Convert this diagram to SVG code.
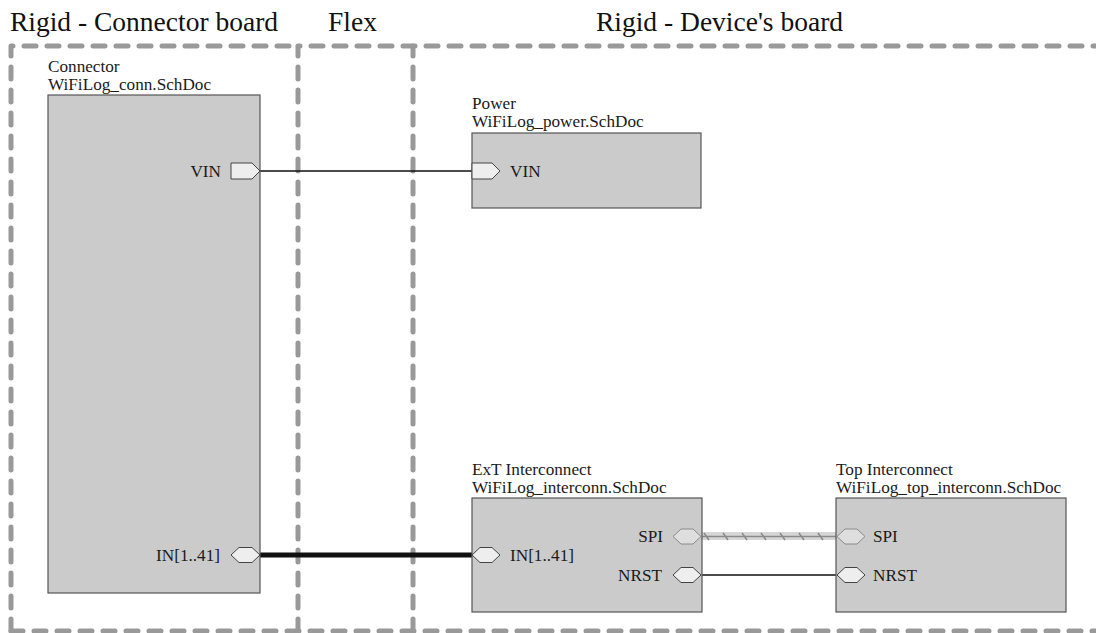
<svg xmlns="http://www.w3.org/2000/svg" width="1096" height="633" viewBox="0 0 1096 633">
<style>
.title{font-family:"Liberation Serif","Times New Roman",Tinos,"DejaVu Serif","Noto Serif",serif;font-size:27.5px;fill:#111}
.lbl{font-family:"Liberation Serif","Times New Roman",Tinos,"DejaVu Serif","Noto Serif",serif;font-size:17.2px;fill:#1a1a1a}
.end{text-anchor:end}
.region{fill:none;stroke:#999;stroke-width:5;stroke-dasharray:12 11;stroke-linecap:round;stroke-linejoin:round}
.sheet{fill:#cbcbcb;stroke:#555;stroke-width:1.2}
.port{fill:#eeeeee;stroke:#444;stroke-width:1}
.hport{fill:#dedede;stroke:#8a8a8a;stroke-width:1}
.wire{stroke:#111;stroke-width:1.5;fill:none}
.bus{stroke:#111;stroke-width:5;fill:none}
</style>
<rect width="1096" height="633" fill="#fff"/>
<g id="regions">
<text class="title" x="10" y="31">Rigid - Connector board</text>
<text class="title" x="328" y="31">Flex</text>
<text class="title" x="596" y="31">Rigid - Device's board</text>
<path class="region" d="M11,631 V46 H298"/>
<path class="region" d="M298,631 V46 H413"/>
<path class="region" d="M413,631 V46 H1110"/>
<path class="region" d="M11,631 H1110"/>
</g>
<g id="connectors">
<line class="wire" x1="260" y1="171" x2="472" y2="171"/>
<line class="bus" x1="260" y1="555" x2="472" y2="555"/>
<line x1="701" y1="536" x2="837" y2="536" stroke="#d6d6d6" stroke-width="8"/>
<line x1="701" y1="536.5" x2="837" y2="536.5" stroke="#8a8a8a" stroke-width="1.5"/>
<g stroke="#8a8a8a" stroke-width="1.5">
<line x1="704" y1="533" x2="709" y2="540"/>
<line x1="723" y1="533" x2="728" y2="540"/>
<line x1="742" y1="533" x2="747" y2="540"/>
<line x1="761" y1="533" x2="766" y2="540"/>
<line x1="780" y1="533" x2="785" y2="540"/>
<line x1="799" y1="533" x2="804" y2="540"/>
<line x1="818" y1="533" x2="823" y2="540"/>
</g>
<line class="wire" x1="701" y1="575" x2="837" y2="575"/>
</g>
<g id="connector">
<text class="lbl" x="48" y="72">Connector</text>
<text class="lbl" x="48" y="90">WiFiLog_conn.SchDoc</text>
<rect class="sheet" x="48" y="95" width="212" height="498"/>
<polygon class="port" points="231,163 252,163 260,171 252,179 231,179"/>
<text class="lbl end" x="221" y="177">VIN</text>
<polygon class="port" points="231,555 239,547.5 252,547.5 260,555 252,562.5 239,562.5"/>
<text class="lbl end" x="220" y="561">IN[1..41]</text>
</g>
<g id="power">
<text class="lbl" x="472" y="109">Power</text>
<text class="lbl" x="472" y="127">WiFiLog_power.SchDoc</text>
<rect class="sheet" x="472" y="133" width="229" height="75"/>
<polygon class="port" points="472,163 492,163 500,171 492,179 472,179"/>
<text class="lbl" x="510" y="177">VIN</text>
</g>
<g id="ext-interconnect">
<text class="lbl" x="472" y="475">ExT Interconnect</text>
<text class="lbl" x="472" y="493">WiFiLog_interconn.SchDoc</text>
<rect class="sheet" x="472" y="498" width="230" height="114"/>
<polygon class="port" points="472,555 480,547.5 492,547.5 500,555 492,562.5 480,562.5"/>
<text class="lbl" x="510" y="561">IN[1..41]</text>
<polygon class="hport" points="673,536.5 681,529 693,529 701,536.5 693,544 681,544"/>
<text class="lbl end" x="663" y="542">SPI</text>
<polygon class="port" points="673,575 681,567.5 693,567.5 701,575 693,582.5 681,582.5"/>
<text class="lbl end" x="662" y="581">NRST</text>
</g>
<g id="top-interconnect">
<text class="lbl" x="836" y="475">Top Interconnect</text>
<text class="lbl" x="836" y="493">WiFiLog_top_interconn.SchDoc</text>
<rect class="sheet" x="836" y="498" width="230" height="114"/>
<polygon class="hport" points="837,536.5 845,529 857,529 865,536.5 857,544 845,544"/>
<text class="lbl" x="873" y="542">SPI</text>
<polygon class="port" points="837,575 845,567.5 857,567.5 865,575 857,582.5 845,582.5"/>
<text class="lbl" x="873" y="581">NRST</text>
</g>
</svg>
